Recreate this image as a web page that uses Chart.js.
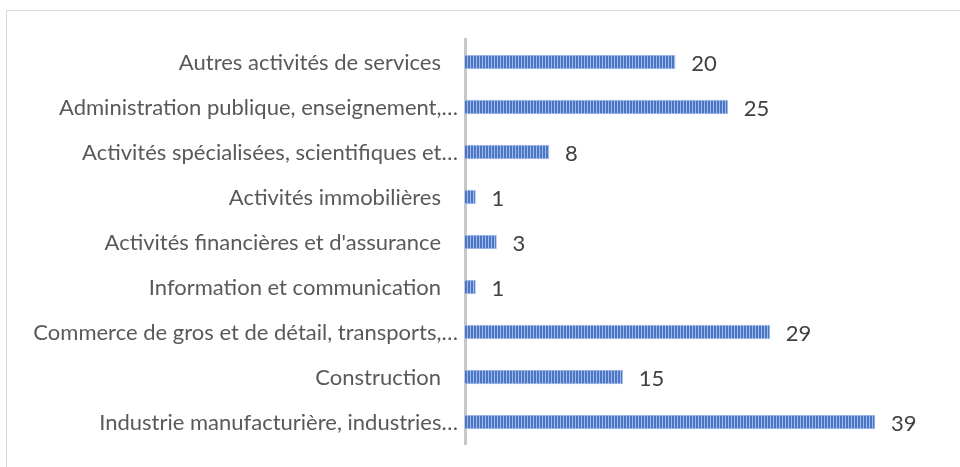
<!DOCTYPE html>
<html>
<head>
<meta charset="utf-8">
<script src="https://cdn.jsdelivr.net/npm/chart.js@4/dist/chart.umd.min.js"></script>
<style>
  html, body { margin: 0; padding: 0; background: #fff; }
  #wrap { position: relative; width: 960px; height: 467px; overflow: hidden; }
  #frame { position: absolute; left: 6px; top: 10px; width: 1000px; height: 470px; border: 1px solid #d9d9d9; box-sizing: border-box; }
  canvas { position: absolute; left: 0; top: 0; }
</style>
</head>
<body>
<div id="wrap">
  <div id="frame"></div>
  <canvas id="chart" width="960" height="467"></canvas>
</div>
<script>
const categories = [
  "Autres activités de services",
  "Administration publique, enseignement,…",
  "Activités spécialisées, scientifiques et…",
  "Activités immobilières",
  "Activités financières et d'assurance",
  "Information et communication",
  "Commerce de gros et de détail, transports,…",
  "Construction",
  "Industrie manufacturière, industries…"
];
const values = [20, 25, 8, 1, 3, 1, 29, 15, 39];

const FONT = "Lato, 'Open Sans', sans-serif";

// striped fill like the original
function stripePattern() {
  let c = document.createElement("canvas");
  c.width = 3; c.height = 1;
  let g = c.getContext("2d");
  g.fillStyle = "#4a76c8";
  g.fillRect(0, 0, 2, 1);
  g.fillStyle = "#a4bbe8";
  g.fillRect(2, 0, 1, 1);
  return g.createPattern(c, "repeat");
}

// category names and values, drawn by hand so truncated names can run a bit further right
const textLabels = {
  id: "textLabels",
  afterDatasetsDraw(chart) {
    const ctx = chart.ctx;
    const y = chart.scales.y;
    const meta = chart.getDatasetMeta(0);
    ctx.save();
    ctx.textBaseline = "middle";
    ctx.font = "22px " + FONT;
    ctx.fillStyle = "#595959";
    ctx.textAlign = "right";
    categories.forEach((name, i) => {
      let right = name.endsWith("…") ? 458 : 441;
      ctx.fillText(name, right, y.getPixelForValue(i) + 1);
    });
    ctx.fillStyle = "#404040";
    ctx.textAlign = "left";
    meta.data.forEach((bar, i) => {
      ctx.fillText(String(values[i]), bar.x + 16, bar.y + 2);
    });
    ctx.restore();
  }
};

const ctx = document.getElementById("chart").getContext("2d");
new Chart(ctx, {
  type: "bar",
  data: {
    labels: categories,
    datasets: [{
      data: values,
      backgroundColor: stripePattern(),
      borderColor: "#adc2ea",
      borderWidth: 1,
      borderSkipped: "left",
      barThickness: 14
    }]
  },
  options: {
    indexAxis: "y",
    responsive: false,
    animation: false,
    layout: { padding: { top: 39.5, bottom: 22.5, left: 0, right: 74.5 } },
    plugins: { legend: { display: false }, tooltip: { enabled: false } },
    scales: {
      x: { display: false, min: 0, max: 40 },
      y: {
        grid: { display: false, drawTicks: false },
        border: { display: true, color: "#c8c8c8", width: 3 },
        ticks: { display: false },
        afterFit(scale) { scale.width = 465; }
      }
    }
  },
  plugins: [textLabels]
});
</script>
</body>
</html>
